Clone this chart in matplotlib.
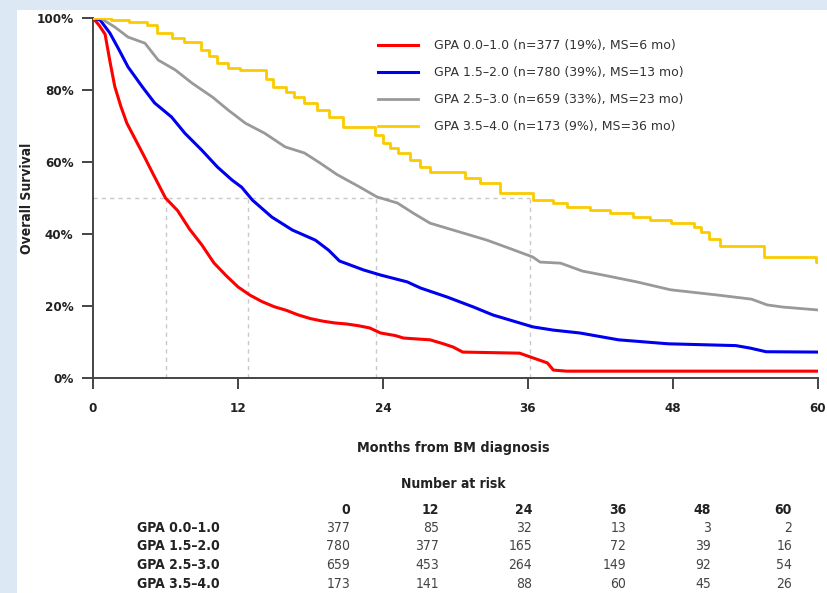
import matplotlib.pyplot as plt
from matplotlib.patches import Rectangle

# survival curves (months, % surviving)
red_t = [0, 0.5, 1, 1.4, 1.8, 2.3, 2.8, 3.5, 4.2, 5, 6, 7, 8, 9, 10, 11, 12, 13, 14, 15, 16, 17, 18, 19, 20,
         21, 22, 22.9, 23.8, 25, 25.7, 27.9, 29, 29.8, 30.6, 35.3, 36.4, 37.6, 38.1, 39.2, 60]
red_s = [100, 98, 95.5, 88, 81, 75.5, 70.8, 66.3, 61.8, 56.5, 50, 46.5, 41.3, 37, 32, 28.5, 25.3, 23, 21.2, 19.8,
         18.8, 17.5, 16.5, 15.8, 15.3, 15, 14.5, 13.9, 12.5, 11.8, 11.1, 10.6, 9.5, 8.6, 7.2, 6.9, 5.6, 4.2, 2.2,
         1.9, 1.9]

blue_t = [0, 0.6, 1.4, 2.1, 2.9, 4.1, 5.1, 6.5, 7.6, 9, 10.3, 11.5, 12.3, 13.2, 14.8, 16.5, 18.4, 19.5, 20.4,
          22.4, 23.8, 26, 27.1, 29.3, 31.5, 33.1, 35.3, 36.4, 38.1, 40.3, 43.5, 47.6, 53.2, 54.4, 55.7, 60]
blue_s = [100, 99.4, 95.8, 91.5, 86.4, 80.8, 76.4, 72.5, 68, 63.3, 58.6, 55, 53, 49.4, 44.7, 41.1, 38.3, 35.5,
          32.5, 30, 28.6, 26.7, 25, 22.5, 19.7, 17.5, 15.3, 14.2, 13.3, 12.5, 10.6, 9.5, 9, 8.3, 7.3, 7.2]

grey_t = [0, 0.6, 1.8, 2.9, 4.3, 5.4, 6.8, 8.2, 9.9, 11.2, 12.6, 14.2, 15.9, 17.5, 18.8, 20.2, 22.1, 23.5, 25.2,
          26.5, 27.9, 29.8, 32.6, 34.8, 36.4, 37, 38.7, 40.5, 42.2, 45, 47.8, 51.8, 54.5, 55.8, 57.1, 60]
grey_s = [100, 100, 97.5, 94.7, 93, 88.3, 85.6, 81.9, 78, 74.4, 70.8, 68, 64.2, 62.5, 59.7, 56.5, 53, 50.3, 48.6,
          45.8, 43, 41.1, 38.3, 35.6, 33.6, 32.2, 31.9, 29.7, 28.6, 26.7, 24.5, 23, 21.9, 20.3, 19.7, 18.9]

yellow_t = [0, 1.5, 3, 4.5, 5.3, 6.5, 7.5, 8.9, 9.6, 10.3, 11.2, 12.2, 14.3, 14.9, 16, 16.6, 17.5, 18.5, 19.5,
            20.7, 23.3, 24.0, 24.6, 25.2, 26.2, 27.1, 27.9, 30.8, 32, 33.7, 36.4, 38.1, 39.2, 41.1, 42.8, 44.7,
            46.1, 47.8, 49.7, 50.3, 51.0, 51.9, 55.5, 59.8, 60]
yellow_s = [100, 99.4, 98.8, 98, 95.8, 94.5, 93.3, 91.1, 89.5, 87.5, 86.2, 85.6, 83, 80.8, 79.5, 78, 76.5, 74.4,
            72.5, 69.7, 67.5, 65.3, 63.8, 62.5, 60.5, 58.6, 57.2, 55.5, 54.2, 51.4, 49.4, 48.6, 47.5, 46.7, 45.8,
            44.7, 43.9, 43, 42, 40.6, 38.5, 36.7, 33.6, 32.2, 32.2]

groups = ['GPA 0.0\u20131.0', 'GPA 1.5\u20132.0', 'GPA 2.5\u20133.0', 'GPA 3.5\u20134.0']
legend_labels = ['GPA 0.0\u20131.0 (n=377 (19%), MS=6 mo)',
                 'GPA 1.5\u20132.0 (n=780 (39%), MS=13 mo)',
                 'GPA 2.5\u20133.0 (n=659 (33%), MS=23 mo)',
                 'GPA 3.5\u20134.0 (n=173 (9%), MS=36 mo)']
median_months = [6, 12.8, 23.4, 36.2]

risk_times = [0, 12, 24, 36, 48, 60]
at_risk = [[377, 85, 32, 13, 3, 2],
           [780, 377, 165, 72, 39, 16],
           [659, 453, 264, 149, 92, 54],
           [173, 141, 88, 60, 45, 26]]

W, H = 827, 593
narrow = dict(family='DejaVu Sans', stretch='condensed')
dark = '#222222'

fig = plt.figure(figsize=(W / 100, H / 100), dpi=100, facecolor='#dce9f5')
fig.patches.append(Rectangle((17 / W, 0), 1, 1 - 10 / H, transform=fig.transFigure,
                             facecolor='white', edgecolor='none', zorder=-5))

ax = fig.add_axes([93 / W, 1 - 378 / H, (818 - 93) / W, (378 - 18) / H])
ax.set_facecolor('none')
ax.set_zorder(2)

# median guides
ax.plot([0, max(median_months)], [50, 50], color='#c8c8c8', lw=1, ls=(0, (3, 3)), zorder=1)
for m in median_months:
    ax.plot([m, m], [0, 50], color='#c8c8c8', lw=1, ls=(0, (3, 3)), zorder=1)

ax.plot(red_t, red_s, color='#ff0000', lw=2.2, label=legend_labels[0], zorder=3)
ax.plot(blue_t, blue_s, color='#0000f0', lw=2.2, label=legend_labels[1], zorder=3)
ax.plot(grey_t, grey_s, color='#999999', lw=2.0, label=legend_labels[2], zorder=3)
ax.plot(yellow_t, yellow_s, color='#fbcb00', lw=2.0, drawstyle='steps-post', label=legend_labels[3], zorder=3)

ax.set_xlim(0, 60)
ax.set_ylim(0, 100)
ax.set_xticks(risk_times)
ax.set_yticks([0, 20, 40, 60, 80, 100])
ax.set_yticklabels(['0%', '20%', '40%', '60%', '80%', '100%'])
for s in ['top', 'right']:
    ax.spines[s].set_visible(False)
for s in ['left', 'bottom']:
    ax.spines[s].set_color('#444444')
    ax.spines[s].set_linewidth(1.4)
ax.tick_params(axis='both', direction='out', length=8, width=1.4, color='#444444', pad=6)
for lab in ax.get_xticklabels() + ax.get_yticklabels():
    lab.set_family('DejaVu Sans')
    lab.set_stretch('condensed')
    lab.set_fontweight('bold')
    lab.set_fontsize(9.5)
    lab.set_color(dark)
ax.tick_params(axis='x', pad=9)

leg = ax.legend(loc='upper left', bbox_to_anchor=(378 / W, 1 - 39 / H), bbox_transform=fig.transFigure,
                frameon=False, borderpad=0, borderaxespad=0, handlelength=3.2, handletextpad=1.3,
                labelspacing=1.12, prop={'family': 'DejaVu Sans', 'size': 9})
for t in leg.get_texts():
    t.set_color('#333333')

fig.text(27 / W, 1 - 198 / H, 'Overall Survival', rotation=90, ha='center', va='center',
         fontweight='bold', fontsize=10, color=dark, **narrow)
fig.text(453 / W, 1 - 448 / H, 'Months from BM diagnosis', ha='center', va='center',
         fontweight='bold', fontsize=10.3, color=dark, **narrow)
fig.text(453 / W, 1 - 484 / H, 'Number at risk', ha='center', va='center',
         fontweight='bold', fontsize=10, color=dark, **narrow)

# number-at-risk table
col_right = [350, 439, 532, 626, 711, 792]
row_y = [510, 528, 546, 565, 584]
for x, t in zip(col_right, risk_times):
    fig.text(x / W, 1 - row_y[0] / H, str(t), ha='right', va='center',
             fontweight='bold', fontsize=10, color=dark, **narrow)
for y, g, counts in zip(row_y[1:], groups, at_risk):
    fig.text(137 / W, 1 - y / H, g, ha='left', va='center',
             fontweight='bold', fontsize=10, color=dark, **narrow)
    for x, c in zip(col_right, counts):
        fig.text(x / W, 1 - y / H, str(c), ha='right', va='center',
                 fontsize=10, color='#444444', **narrow)

fig.savefig('out.png', dpi=100, facecolor=fig.get_facecolor())
